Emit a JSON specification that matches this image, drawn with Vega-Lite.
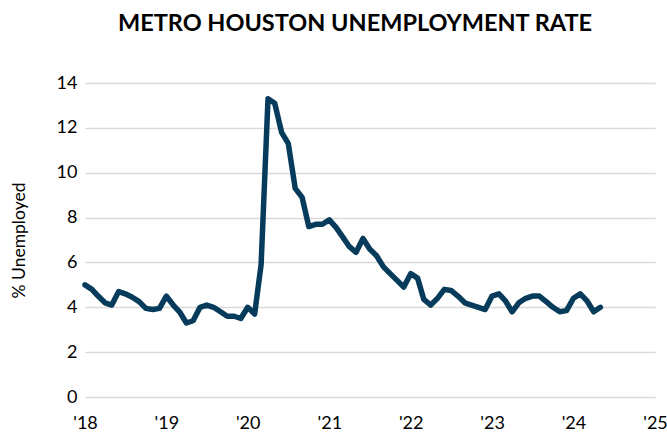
{
  "$schema": "https://vega.github.io/schema/vega-lite/v6.json",
  "autosize": "none",
  "width": 570,
  "height": 314,
  "padding": {"left": 85, "top": 83, "right": 12, "bottom": 40},
  "background": "white",
  "config": {"view": {"stroke": null}, "font": "Lato"},
  "title": {
    "text": "METRO HOUSTON UNEMPLOYMENT RATE",
    "font": "Lato",
    "fontSize": 23.5,
    "fontWeight": "bold",
    "color": "#000000",
    "anchor": "middle",
    "offset": 39,
    "dx": -15
  },
  "data": {
    "values": [
      {"date": "2018-01-01", "rate": 5.0},
      {"date": "2018-02-01", "rate": 4.8},
      {"date": "2018-03-01", "rate": 4.5},
      {"date": "2018-04-01", "rate": 4.2},
      {"date": "2018-05-01", "rate": 4.1},
      {"date": "2018-06-01", "rate": 4.7},
      {"date": "2018-07-01", "rate": 4.6},
      {"date": "2018-08-01", "rate": 4.45},
      {"date": "2018-09-01", "rate": 4.25},
      {"date": "2018-10-01", "rate": 3.95},
      {"date": "2018-11-01", "rate": 3.9},
      {"date": "2018-12-01", "rate": 3.95},
      {"date": "2019-01-01", "rate": 4.5},
      {"date": "2019-02-01", "rate": 4.1},
      {"date": "2019-03-01", "rate": 3.8},
      {"date": "2019-04-01", "rate": 3.3},
      {"date": "2019-05-01", "rate": 3.4},
      {"date": "2019-06-01", "rate": 4.0},
      {"date": "2019-07-01", "rate": 4.1},
      {"date": "2019-08-01", "rate": 4.0},
      {"date": "2019-09-01", "rate": 3.8},
      {"date": "2019-10-01", "rate": 3.6},
      {"date": "2019-11-01", "rate": 3.6},
      {"date": "2019-12-01", "rate": 3.5},
      {"date": "2020-01-01", "rate": 4.0},
      {"date": "2020-02-01", "rate": 3.7},
      {"date": "2020-03-01", "rate": 5.9},
      {"date": "2020-04-01", "rate": 13.3},
      {"date": "2020-05-01", "rate": 13.1},
      {"date": "2020-06-01", "rate": 11.8},
      {"date": "2020-07-01", "rate": 11.3},
      {"date": "2020-08-01", "rate": 9.3},
      {"date": "2020-09-01", "rate": 8.9},
      {"date": "2020-10-01", "rate": 7.6},
      {"date": "2020-11-01", "rate": 7.7},
      {"date": "2020-12-01", "rate": 7.7},
      {"date": "2021-01-01", "rate": 7.9},
      {"date": "2021-02-01", "rate": 7.55},
      {"date": "2021-03-01", "rate": 7.15},
      {"date": "2021-04-01", "rate": 6.7},
      {"date": "2021-05-01", "rate": 6.45},
      {"date": "2021-06-01", "rate": 7.07},
      {"date": "2021-07-01", "rate": 6.6},
      {"date": "2021-08-01", "rate": 6.3},
      {"date": "2021-09-01", "rate": 5.8},
      {"date": "2021-10-01", "rate": 5.5},
      {"date": "2021-11-01", "rate": 5.2},
      {"date": "2021-12-01", "rate": 4.9},
      {"date": "2022-01-01", "rate": 5.5},
      {"date": "2022-02-01", "rate": 5.3},
      {"date": "2022-03-01", "rate": 4.35},
      {"date": "2022-04-01", "rate": 4.1},
      {"date": "2022-05-01", "rate": 4.4},
      {"date": "2022-06-01", "rate": 4.8},
      {"date": "2022-07-01", "rate": 4.75},
      {"date": "2022-08-01", "rate": 4.5},
      {"date": "2022-09-01", "rate": 4.2},
      {"date": "2022-10-01", "rate": 4.1},
      {"date": "2022-11-01", "rate": 4.0},
      {"date": "2022-12-01", "rate": 3.9},
      {"date": "2023-01-01", "rate": 4.5},
      {"date": "2023-02-01", "rate": 4.6},
      {"date": "2023-03-01", "rate": 4.3},
      {"date": "2023-04-01", "rate": 3.8},
      {"date": "2023-05-01", "rate": 4.2},
      {"date": "2023-06-01", "rate": 4.4},
      {"date": "2023-07-01", "rate": 4.5},
      {"date": "2023-08-01", "rate": 4.5},
      {"date": "2023-09-01", "rate": 4.25},
      {"date": "2023-10-01", "rate": 4.0},
      {"date": "2023-11-01", "rate": 3.8},
      {"date": "2023-12-01", "rate": 3.85},
      {"date": "2024-01-01", "rate": 4.4},
      {"date": "2024-02-01", "rate": 4.6},
      {"date": "2024-03-01", "rate": 4.3},
      {"date": "2024-04-01", "rate": 3.8},
      {"date": "2024-05-01", "rate": 4.0}
    ]
  },
  "mark": {"type": "line", "color": "#073b5c", "strokeWidth": 5.5, "strokeJoin": "round", "strokeCap": "round"},
  "encoding": {
    "x": {
      "field": "date",
      "type": "temporal",
      "scale": {"type": "utc", "domain": [{"year": 2018, "month": 1, "date": 1, "utc": true}, {"year": 2025, "month": 1, "date": 1, "utc": true}]},
      "axis": {
        "title": null,
        "values": [
          {"year": 2018, "month": 1, "date": 1, "utc": true},
          {"year": 2019, "month": 1, "date": 1, "utc": true},
          {"year": 2020, "month": 1, "date": 1, "utc": true},
          {"year": 2021, "month": 1, "date": 1, "utc": true},
          {"year": 2022, "month": 1, "date": 1, "utc": true},
          {"year": 2023, "month": 1, "date": 1, "utc": true},
          {"year": 2024, "month": 1, "date": 1, "utc": true},
          {"year": 2025, "month": 1, "date": 1, "utc": true}
        ],
        "labelExpr": "\"'\" + utcFormat(datum.value, '%y')",
        "grid": false,
        "domain": false,
        "ticks": false,
        "labelFontSize": 18,
        "labelColor": "#000000",
        "labelPadding": 17,
        "labelFlush": false,
        "labelOverlap": false
      }
    },
    "y": {
      "field": "rate",
      "type": "quantitative",
      "scale": {"domain": [0, 14], "nice": false},
      "axis": {
        "title": "% Unemployed",
        "titleFontSize": 17.5,
        "titleFontWeight": "normal",
        "titleColor": "#000000",
        "titlePadding": 28,
        "values": [0, 2, 4, 6, 8, 10, 12, 14],
        "grid": true,
        "gridColor": "#d9d9d9",
        "gridWidth": 1.5,
        "domain": false,
        "ticks": false,
        "labelFontSize": 18,
        "labelColor": "#000000",
        "labelPadding": 8
      }
    }
  }
}
